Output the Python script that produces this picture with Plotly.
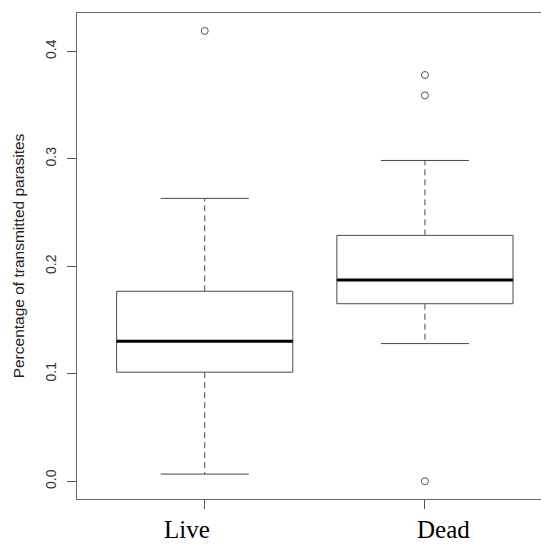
import plotly.graph_objects as go

groups = ["Live", "Dead"]
positions = [1, 2]
label_shift_px = [-17.5, 18.4]
q1 = [0.1015, 0.1652]
median = [0.1303, 0.1873]
q3 = [0.1768, 0.2288]
lower_whisker = [0.0067, 0.1281]
upper_whisker = [0.2632, 0.2985]
outliers = [[0.419], [0.378, 0.359, 0.0]]
y_ticks = [0.0, 0.1, 0.2, 0.3, 0.4]
y_ticktext = ["0.0", "0.1", "0.2", "0.3", "0.4"]

BOX_W = 0.8
CAP_W = 0.4
LINE_COL = "#4a4a4a"

fig = go.Figure()
for i, p in enumerate(positions):
    h = BOX_W / 2
    c = CAP_W / 2
    # whiskers (dashed)
    fig.add_trace(go.Scatter(
        x=[p, p, None, p, p],
        y=[q3[i], upper_whisker[i], None, q1[i], lower_whisker[i]],
        mode="lines", line=dict(color=LINE_COL, width=1, dash="6px,4px"),
        hoverinfo="skip", showlegend=False))
    # caps
    fig.add_trace(go.Scatter(
        x=[p - c, p + c, None, p - c, p + c],
        y=[upper_whisker[i], upper_whisker[i], None, lower_whisker[i], lower_whisker[i]],
        mode="lines", line=dict(color=LINE_COL, width=1),
        hoverinfo="skip", showlegend=False))
    # box
    fig.add_trace(go.Scatter(
        x=[p - h, p + h, p + h, p - h, p - h],
        y=[q1[i], q1[i], q3[i], q3[i], q1[i]],
        mode="lines", line=dict(color=LINE_COL, width=1),
        fill="toself", fillcolor="white",
        hoverinfo="skip", showlegend=False))
    # median
    fig.add_trace(go.Scatter(
        x=[p - h, p + h], y=[median[i], median[i]],
        mode="lines", line=dict(color="black", width=3),
        hoverinfo="skip", showlegend=False))
    # outliers
    fig.add_trace(go.Scatter(
        x=[p] * len(outliers[i]), y=outliers[i],
        mode="markers",
        marker=dict(symbol="circle-open", size=7, color="#555555", line=dict(width=1)),
        hoverinfo="skip", showlegend=False))

# group labels under the axis
for p, g, s in zip(positions, groups, label_shift_px):
    fig.add_annotation(
        x=p, xref="x", y=0, yref="paper", text=g, showarrow=False,
        xanchor="center", yanchor="top", xshift=s, yshift=-16,
        borderpad=0,
        font=dict(family="Liberation Serif", size=25, color="black"))

fig.update_layout(
    width=541, height=546,
    margin=dict(l=77, r=0, t=13, b=47),
    plot_bgcolor="white", paper_bgcolor="white",
    xaxis=dict(
        range=[0.42, 2.527],
        tickmode="array", tickvals=positions, ticktext=["", ""],
        showticklabels=False,
        showline=True, linecolor="#666666", linewidth=1, mirror=True,
        ticks="outside", ticklen=9, tickcolor="#555555",
        showgrid=False, zeroline=False,
    ),
    yaxis=dict(
        range=[-0.0165, 0.4357],
        tickmode="array", tickvals=y_ticks, ticktext=y_ticktext,
        tickangle=-90,
        tickfont=dict(family="Liberation Sans", size=14, color="#333333"),
        ticklabelstandoff=5,
        showline=True, linecolor="#666666", linewidth=1,
        ticks="outside", ticklen=9, tickcolor="#555555",
        showgrid=False, zeroline=False,
        title=dict(text="Percentage of transmitted parasites",
                   font=dict(family="Liberation Sans", size=15.5, color="#222222"),
                   standoff=14),
    ),
)

fig.write_html("out.html")
